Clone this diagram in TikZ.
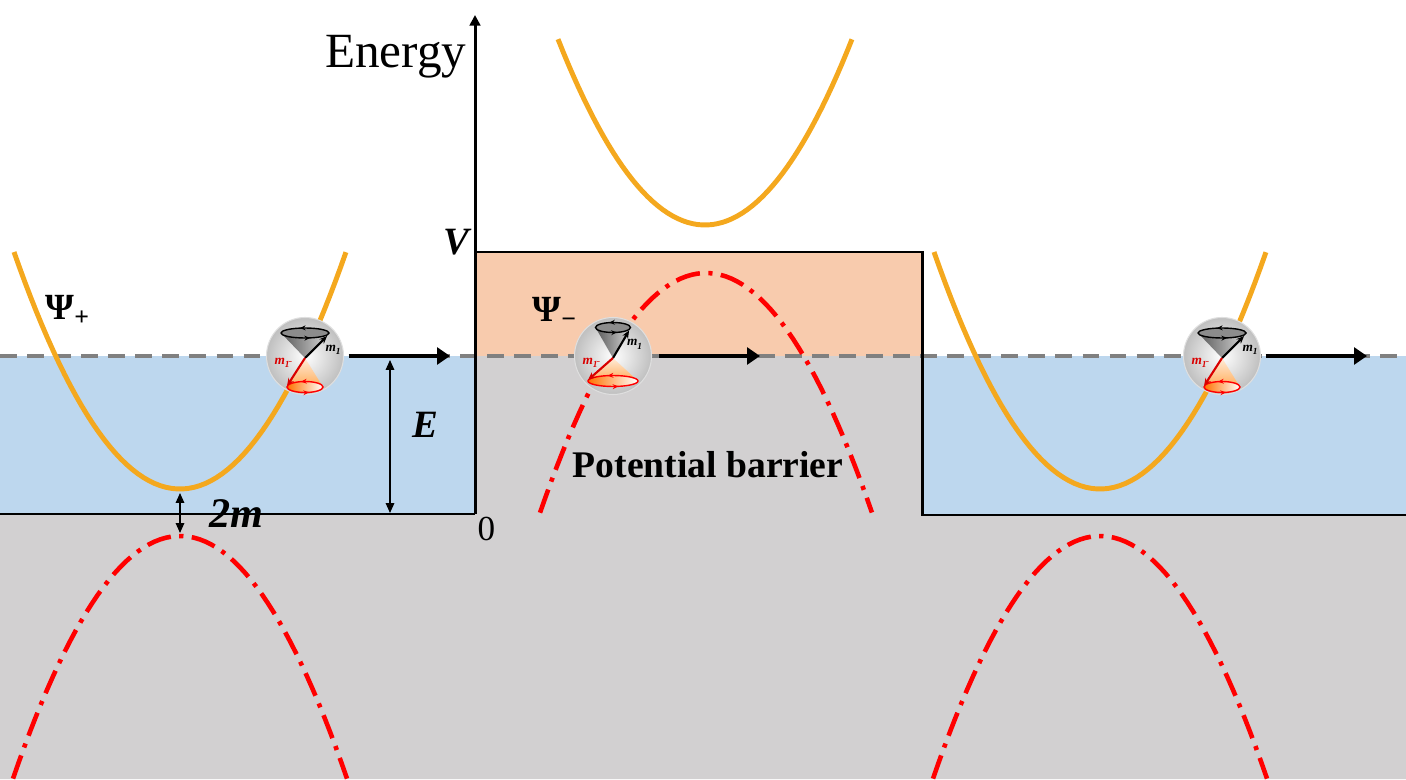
\documentclass[tikz,border=0pt]{standalone}
\usepackage{fontspec}
\setmainfont{Liberation Serif}
\usepackage{amsmath}
\usetikzlibrary{arrows.meta,decorations.markings}

\definecolor{bggray}{RGB}{210,208,209}
\definecolor{wellblue}{RGB}{189,215,238}
\definecolor{barpeach}{RGB}{248,203,173}
\definecolor{bandorange}{RGB}{244,168,30}
\definecolor{dashgray}{RGB}{128,128,128}

\begin{document}
\begin{tikzpicture}
\path [use as bounding box] (0,0) rectangle (14.06,7.79);
\tikzstyle{band} = [bandorange, line width=1.4pt]
\tikzstyle{gapband} = [red, line width=1.3pt, dash pattern=on 7pt off 2.4pt on 1.2pt off 2.4pt]
\tikzstyle{wall} = [black, line width=0.85pt]
\tikzstyle{flow} = [-{Triangle[length=3.7pt,width=4.8pt]}, line width=1.4pt, shorten <=1.3pt]
\tikzstyle{dimarrow} = [{Triangle[length=2.8pt,width=2.4pt]}-{Triangle[length=2.8pt,width=2.4pt]}, line width=0.4pt]
\tikzstyle{spinball} = [circle, minimum size=0.77cm, inner sep=0pt, inner color=white, outer color=gray!50, draw=gray!25, line width=0.3pt]
\tikzstyle{spinloop} = [line width=0.4pt, postaction={decorate}, decoration={markings,
  mark=at position 0.3 with {\arrow{Stealth[length=1.6pt,width=1.4pt]}},
  mark=at position 0.8 with {\arrow{Stealth[length=1.6pt,width=1.4pt]}}}]
\tikzstyle{spin} = [-{Stealth[length=2.2pt,width=1.8pt]}, line width=0.6pt]
\tikzstyle{mlab} = [inner sep=0pt, font=\fontsize{3.8}{4}\selectfont\bfseries\itshape]
\tikzstyle{sym} = [inner sep=0pt, font=\fontsize{11}{12}\selectfont\bfseries\itshape]

% regions
\fill[bggray] (0,0) -- (14.06,0) -- (14.06,2.64) -- (9.22,2.64) -- (9.22,4.23) -- (4.75,4.23) -- (4.75,2.65) -- (0,2.65) -- cycle;
\fill[wellblue] (0,2.65) rectangle (4.75,4.23);
\fill[wellblue] (9.22,2.64) rectangle (14.06,4.23);
\fill[barpeach] (4.75,4.23) rectangle (9.22,5.27);
\draw[dashgray, line width=1.1pt, dash pattern=on 4.8pt off 2.9pt] (0,4.23) -- (14.06,4.23);

% bands
\draw[band] plot[domain=0.14:3.46, samples=60] (\x, {2.90+0.86*(\x-1.80)^2});
\draw[band] plot[domain=5.58:8.52, samples=60] (\x, {5.54+0.86*(\x-7.05)^2});
\draw[band] plot[domain=9.34:12.66, samples=60] (\x, {2.90+0.86*(\x-11.00)^2});
\draw[gapband] plot[domain=0.13:3.47, samples=60] (\x, {2.43-0.87*(\x-1.80)^2});
\draw[gapband] plot[domain=5.40:8.72, samples=60] (\x, {5.06-0.87*(\x-7.06)^2});
\draw[gapband] plot[domain=9.33:12.67, samples=60] (\x, {2.43-0.87*(\x-11.00)^2});

% axis and barrier
\coordinate (O) at (4.75,2.65);
\coordinate (top) at (4.75,7.64);
\draw[wall] (0,2.65) -- (O);
\draw[wall, -{Triangle[length=3pt,width=3pt]}] (O) -- (top);
\draw[wall] (4.75,5.27) -- (9.22,5.27) -- (9.22,2.64) -- (14.06,2.64);

% spins
\foreach \n/\cx/\tr/\ty/\br/\by in {1/3.05/.24/.23/.18/-.31, 2/6.13/.175/.285/.25/-.25, 3/12.22/.24/.23/.18/-.31} {
\begin{scope}[shift={(\cx,4.23)}]
\node[spinball] (s\n) at (0,0) {};
\shade[left color=black!65, right color=black!15] (0,-.02) -- (-\tr,\ty) arc[start angle=180, end angle=360, x radius=\tr, y radius=.05] -- cycle;
\draw[spinloop, fill=black!45] (0,\ty) ellipse[x radius=\tr, y radius=.05];
\shade[top color=orange!15, bottom color=orange!65] (0,-.02) -- (-\br,\by) -- (\br,\by) -- cycle;
\path[red, draw, left color=orange!90!red, right color=white, spinloop] (0,\by) ellipse[x radius=\br, y radius=.055];
\draw[spin] (0,-.02) -- (.92*\tr,\ty-.03);
\draw[spin, red!85!black] (0,-.02) -- (-\br,\by+.01);
\node[mlab] (m\n) at (\tr+.05,\ty-.17) {m\textsubscript{1}};
\node[mlab, red!85!black] (r\n) at (-.22,-.07) {m\textsubscript{\=1}};
\end{scope}
}

\coordinate (f1) at (4.50,4.23);
\coordinate (f2) at (7.60,4.23);
\coordinate (f3) at (13.67,4.23);
\draw[flow] (s1) -- (f1);
\draw[flow, shorten <=2pt] (s2) -- (f2);
\draw[flow] (s3) -- (f3);

% gaps
\coordinate (Etop) at (3.90,4.19);
\coordinate (Ebot) at (3.90,2.66);
\draw[dimarrow] (Etop) -- (Ebot);
\coordinate (Mtop) at (1.80,2.86);
\coordinate (Mbot) at (1.80,2.46);
\draw[dimarrow] (Mtop) -- (Mbot);

% labels
\node[anchor=base east, inner sep=0pt, font=\fontsize{14}{16}\selectfont] (energy) at (4.67,7.11) {Energy};
\node[sym, anchor=base east] (V) at (4.70,5.24) {V};
\node[inner sep=0pt, font=\fontsize{10}{12}\selectfont] (zero) at (4.865,2.505) {0};
\node[sym] (Elab) at (4.25,3.545) {E};
\node[sym, font=\fontsize{12}{13}\selectfont\bfseries\itshape] (mlab) at (2.36,2.65) {2m};
\node[anchor=base west, inner sep=0pt, font=\fontsize{10.5}{12}\selectfont\bfseries] (psip) at (0.45,4.59) {Ψ\textsubscript{+}};
\node[anchor=base west, inner sep=0pt, font=\fontsize{10.5}{12}\selectfont\bfseries] (psim) at (5.32,4.57) {Ψ\textsubscript{−}};
\node[anchor=base, inner sep=0pt, font=\fontsize{10.7}{12}\selectfont\bfseries] (barrier) at (7.08,3.017) {Potential barrier};
\end{tikzpicture}
\end{document}
